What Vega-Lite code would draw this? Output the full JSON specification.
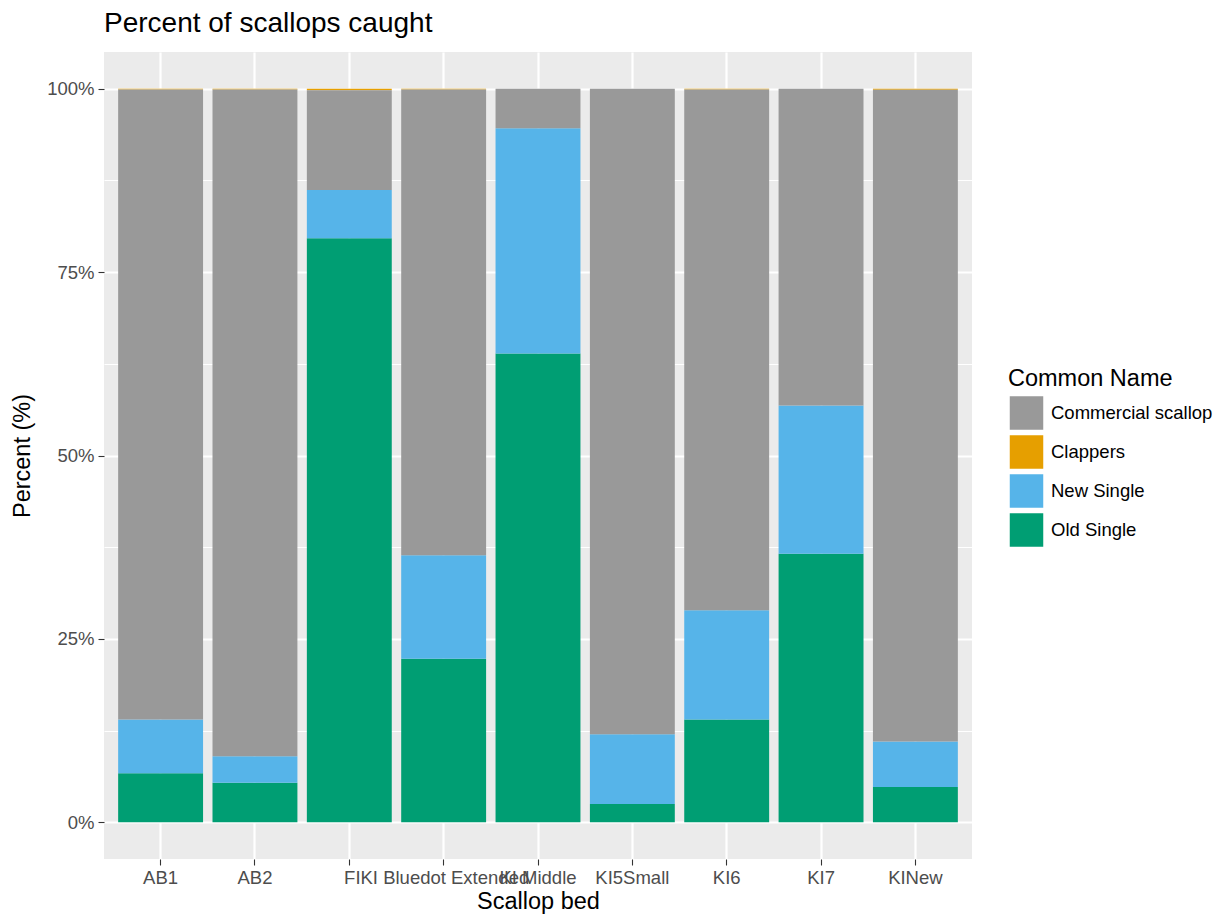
{
  "$schema": "https://vega.github.io/schema/vega-lite/v6.json",
  "width": 868,
  "height": 807,
  "padding": {"left": 10, "top": 10, "right": 5, "bottom": 5},
  "background": "white",
  "config": {
    "view": {"fill": "#EBEBEB", "stroke": null},
    "font": "Liberation Sans"
  },
  "title": {
    "text": "Percent of scallops caught",
    "anchor": "start",
    "frame": "group",
    "fontSize": 28,
    "fontWeight": "normal",
    "color": "black",
    "font": "Liberation Sans",
    "offset": 14
  },
  "data": {
    "values": [
      {"bed": "AB1", "name": "Old Single", "percent": 6.7},
      {"bed": "AB1", "name": "New Single", "percent": 7.3},
      {"bed": "AB1", "name": "Clappers", "percent": 0.12},
      {"bed": "AB1", "name": "Commercial scallop", "percent": 85.88},
      {"bed": "AB2", "name": "Old Single", "percent": 5.4},
      {"bed": "AB2", "name": "New Single", "percent": 3.6},
      {"bed": "AB2", "name": "Clappers", "percent": 0.1},
      {"bed": "AB2", "name": "Commercial scallop", "percent": 90.9},
      {"bed": "", "name": "Old Single", "percent": 79.6},
      {"bed": "", "name": "New Single", "percent": 6.6},
      {"bed": "", "name": "Clappers", "percent": 0.2},
      {"bed": "", "name": "Commercial scallop", "percent": 13.6},
      {"bed": "FIKI Bluedot Extended", "name": "Old Single", "percent": 22.3},
      {"bed": "FIKI Bluedot Extended", "name": "New Single", "percent": 14.1},
      {"bed": "FIKI Bluedot Extended", "name": "Clappers", "percent": 0.1},
      {"bed": "FIKI Bluedot Extended", "name": "Commercial scallop", "percent": 63.5},
      {"bed": "KI Middle", "name": "Old Single", "percent": 63.9},
      {"bed": "KI Middle", "name": "New Single", "percent": 30.7},
      {"bed": "KI Middle", "name": "Clappers", "percent": 0},
      {"bed": "KI Middle", "name": "Commercial scallop", "percent": 5.4},
      {"bed": "KI5Small", "name": "Old Single", "percent": 2.5},
      {"bed": "KI5Small", "name": "New Single", "percent": 9.5},
      {"bed": "KI5Small", "name": "Clappers", "percent": 0},
      {"bed": "KI5Small", "name": "Commercial scallop", "percent": 88.0},
      {"bed": "KI6", "name": "Old Single", "percent": 14.0},
      {"bed": "KI6", "name": "New Single", "percent": 14.9},
      {"bed": "KI6", "name": "Clappers", "percent": 0.12},
      {"bed": "KI6", "name": "Commercial scallop", "percent": 70.98},
      {"bed": "KI7", "name": "Old Single", "percent": 36.6},
      {"bed": "KI7", "name": "New Single", "percent": 20.2},
      {"bed": "KI7", "name": "Clappers", "percent": 0},
      {"bed": "KI7", "name": "Commercial scallop", "percent": 43.2},
      {"bed": "KINew", "name": "Old Single", "percent": 4.8},
      {"bed": "KINew", "name": "New Single", "percent": 6.2},
      {"bed": "KINew", "name": "Clappers", "percent": 0.15},
      {"bed": "KINew", "name": "Commercial scallop", "percent": 88.85}
    ]
  },
  "mark": {"type": "bar"},
  "encoding": {
    "x": {
      "field": "bed",
      "type": "nominal",
      "sort": ["AB1", "AB2", "", "FIKI Bluedot Extended", "KI Middle", "KI5Small", "KI6", "KI7", "KINew"],
      "scale": {"paddingInner": 0.1, "paddingOuter": 0.15},
      "axis": {
        "title": "Scallop bed",
        "titleFontSize": 23.5,
        "titleFontWeight": "normal",
        "titleColor": "black",
        "titlePadding": 3,
        "labelAngle": 0,
        "labelOverlap": false,
        "labelLimit": 0,
        "labelFontSize": 18.5,
        "labelColor": "#4D4D4D",
        "labelPadding": 3,
        "labelOffset": {"condition": {"test": "datum.value === 'FIKI Bluedot Extended'", "value": -7}, "value": 0},
        "tickSize": 6,
        "tickColor": "#333333",
        "tickWidth": 1.1,
        "domain": false,
        "grid": true,
        "gridColor": "white",
        "gridWidth": 2.2,
        "bandPosition": 0.5
      }
    },
    "y": {
      "field": "percent",
      "type": "quantitative",
      "stack": "normalize",
      "scale": {"domain": [-0.05, 1.05], "nice": false, "zero": false},
      "axis": {
        "title": "Percent (%)",
        "titleFontSize": 23.5,
        "titleFontWeight": "normal",
        "titleColor": "black",
        "titlePadding": 12,
        "values": [0, 0.125, 0.25, 0.375, 0.5, 0.625, 0.75, 0.875, 1],
        "format": ".0%",
        "labelExpr": "(round(datum.value * 8) % 2 === 0) ? datum.label : ''",
        "labelFontSize": 18.5,
        "labelColor": "#4D4D4D",
        "labelPadding": 4,
        "tickSize": 6,
        "tickColor": "#333333",
        "tickWidth": 1.1,
        "tickOpacity": {"condition": {"test": "round(datum.value * 8) % 2 === 1", "value": 0}, "value": 1},
        "domain": false,
        "grid": true,
        "gridColor": "white",
        "gridWidth": {"condition": {"test": "round(datum.value * 8) % 2 === 1", "value": 1.1}, "value": 2.2}
      }
    },
    "color": {
      "field": "name",
      "type": "nominal",
      "scale": {
        "domain": ["Commercial scallop", "Clappers", "New Single", "Old Single"],
        "range": ["#999999", "#E69F00", "#56B4E9", "#009E73"]
      },
      "legend": {
        "title": "Common Name",
        "orient": "none",
        "legendX": 904,
        "legendY": 315,
        "titleFontSize": 23.5,
        "titleFontWeight": "normal",
        "titleColor": "black",
        "titlePadding": 4,
        "labelFontSize": 18.5,
        "labelColor": "black",
        "labelLimit": 0,
        "labelOffset": 6,
        "symbolType": "square",
        "symbolSize": 1225,
        "symbolStrokeColor": "white",
        "symbolStrokeWidth": 1.5,
        "symbolOpacity": 1,
        "rowPadding": -6
      }
    },
    "order": {"field": "name", "sort": "descending"}
  }
}
